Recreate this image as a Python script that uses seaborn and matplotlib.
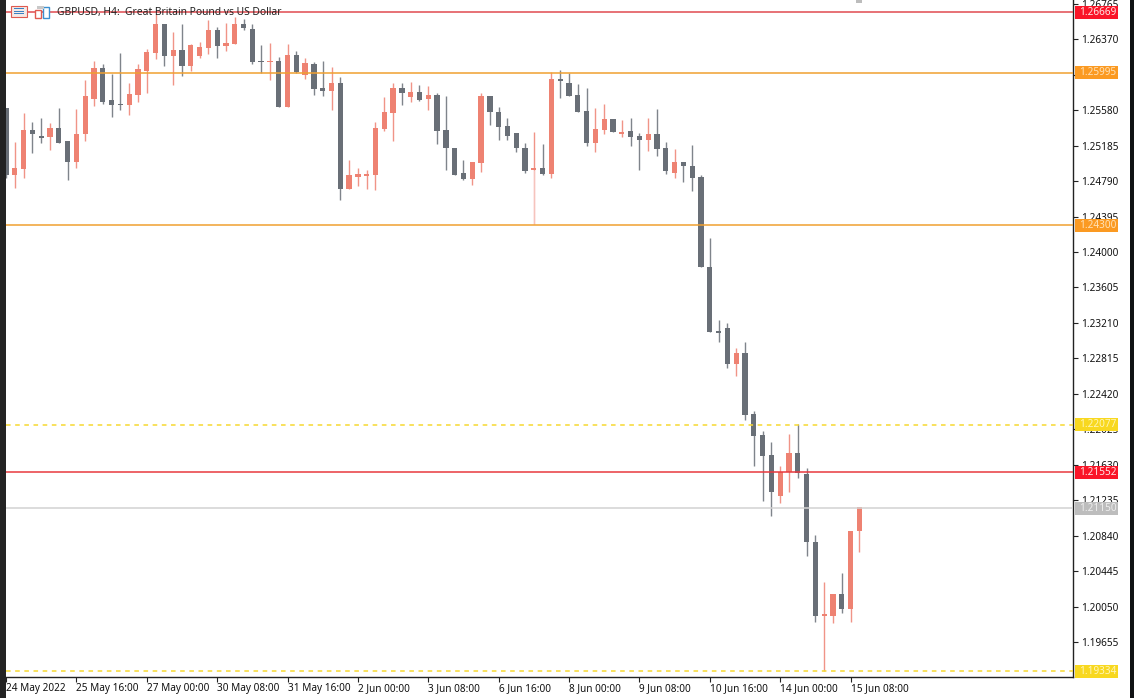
import numpy as np
import pandas as pd
import matplotlib
matplotlib.use("Agg")
import matplotlib.pyplot as plt
from matplotlib.patches import Rectangle
import seaborn as sns

opens = [1.25599,1.24853,1.24920,1.25357,1.25291,1.25276,1.25380,1.25235,1.25001,1.25309,1.25702,1.26051,1.25688,1.25651,1.25639,1.25747,
         1.26018,1.26218,1.26537,1.26177,1.26248,1.26070,1.26177,1.26274,1.26466,1.26292,1.26311,1.26541,1.26481,1.26129,1.26114,1.26129,
         1.25617,1.26196,1.25966,1.26092,1.25821,1.25788,1.25880,1.24698,1.24831,1.24850,1.24853,1.25365,1.25547,1.25821,1.25729,1.25784,
         1.25699,1.25751,1.25354,1.25161,1.24879,1.24809,1.24991,1.25736,1.25562,1.25406,1.25321,1.25161,1.24909,1.24939,1.24868,1.25929,
         1.25885,1.25747,1.25573,1.25209,1.25358,1.25480,1.25313,1.25343,1.25291,1.25247,1.25317,1.25161,1.24879,1.24998,1.24961,1.24831,
         1.23836,1.23118,1.23154,1.22754,1.22873,1.22197,1.21964,1.21741,1.21285,1.21555,1.21767,1.21527,1.20777,1.19953,1.19950,1.20191,
         1.20024,1.20896]
highs = [1.25599,1.25228,1.25550,1.25443,1.25487,1.25432,1.25599,1.25235,1.25587,1.25914,1.26129,1.26092,1.25981,1.26211,1.25884,1.26088,
         1.26259,1.26648,1.26537,1.26444,1.26537,1.26314,1.26340,1.26581,1.26507,1.26552,1.26619,1.26593,1.26537,1.26303,1.26322,1.26173,
         1.26314,1.26240,1.26162,1.26110,1.26125,1.26062,1.25951,1.25024,1.24931,1.24913,1.25451,1.25721,1.25877,1.25877,1.25896,1.25859,
         1.25847,1.25766,1.25736,1.25161,1.25024,1.25002,1.25773,1.25736,1.25610,1.25488,1.25321,1.25217,1.25339,1.25198,1.26003,1.26025,
         1.25988,1.25866,1.25829,1.25599,1.25643,1.25480,1.25469,1.25488,1.25321,1.25488,1.25588,1.25228,1.25146,1.25006,1.25191,1.24857,
         1.24159,1.23243,1.23207,1.22928,1.23002,1.22231,1.22012,1.21883,1.21619,1.21975,1.22086,1.21593,1.20851,1.20325,1.20191,1.20425,
         1.20899,1.21159]
lows = [1.24820,1.24708,1.24820,1.25098,1.25209,1.25135,1.25209,1.24801,1.24931,1.25235,1.25625,1.25647,1.25498,1.25580,1.25524,1.25673,
        1.25765,1.26144,1.26070,1.25858,1.25958,1.26010,1.26155,1.26199,1.26155,1.26240,1.26311,1.26470,1.26092,1.25988,1.25914,1.25613,
        1.25617,1.25988,1.25921,1.25751,1.25736,1.25580,1.24579,1.24698,1.24735,1.24698,1.24690,1.25347,1.25239,1.25636,1.25666,1.25684,
        1.25580,1.25198,1.24913,1.24853,1.24802,1.24746,1.24894,1.25410,1.25247,1.25247,1.25117,1.24876,1.24312,1.24861,1.24820,1.25710,
        1.25736,1.25558,1.25184,1.25117,1.25310,1.25332,1.25276,1.25180,1.24913,1.25124,1.25069,1.24868,1.24827,1.24783,1.24683,1.23830,
        1.23106,1.23002,1.22706,1.22620,1.22131,1.21619,1.21233,1.21062,1.21204,1.21333,1.21489,1.20621,1.19886,1.19341,1.19869,1.19987,
        1.19886,1.20665]
closes = [1.24857,1.24931,1.25357,1.25309,1.25272,1.25380,1.25217,1.25001,1.25317,1.25736,1.26051,1.25673,1.25636,1.25639,1.25758,1.26036,
          1.26222,1.26537,1.26181,1.26251,1.26070,1.26300,1.26285,1.26466,1.26292,1.26322,1.26541,1.26492,1.26114,1.26114,1.26129,1.25613,
          1.26196,1.25999,1.26099,1.25814,1.25788,1.25880,1.24697,1.24853,1.24865,1.24865,1.25380,1.25554,1.25821,1.25766,1.25784,1.25695,
          1.25747,1.25347,1.25154,1.24853,1.24809,1.25002,1.25736,1.25558,1.25395,1.25291,1.25154,1.24905,1.24939,1.24868,1.25929,1.25903,
          1.25736,1.25562,1.25209,1.25365,1.25477,1.25332,1.25339,1.25284,1.25247,1.25317,1.25150,1.24905,1.24998,1.24957,1.24820,1.23830,
          1.23106,1.23102,1.22754,1.22873,1.22190,1.21956,1.21733,1.21330,1.21555,1.21767,1.21538,1.20770,1.19950,1.19969,1.20191,1.20024,
          1.20899,1.21159]

price_ticks = [1.26765,1.26370,1.25975,1.25580,1.25185,1.24790,1.24395,1.24000,1.23605,1.23210,
               1.22815,1.22420,1.22025,1.21630,1.21235,1.20840,1.20445,1.20050,1.19655]
date_labels = ["24 May 2022","25 May 16:00","27 May 00:00","30 May 08:00","31 May 16:00","2 Jun 00:00","3 Jun 08:00",
               "6 Jun 16:00","8 Jun 00:00","9 Jun 08:00","10 Jun 16:00","14 Jun 00:00","15 Jun 08:00"]
level_prices = [1.26669,1.25995,1.24300,1.22077,1.21552,1.21150,1.19334]
level_colors = ["#e04a50","#f0a030","#f0a030","#f6d830","#e8393f","#d2d2d2","#f6d830"]
tag_colors = ["#fa1528","#fb9a22","#fb9a22","#f8d820","#fa1528","#bdbdbd","#f8d820"]
tag_text_colors = ["#ffe6e6","#ffe2b8","#ffe2b8","#fff6b8","#ffe6e6","#eeeeee","#fff6b8"]
level_styles = ["-","-","-","--","-","-","--"]
title = "GBPUSD, H4:  Great Britain Pound vs US Dollar"

UP = "#ee8272"
DOWN = "#696f77"
W, H = 1134, 698

sns.set_theme(style="white")
plt.rcParams["font.family"] = ["Noto Sans", "DejaVu Sans"]

fig = plt.figure(figsize=(W / 100, H / 100), dpi=100, facecolor="white")
ax = fig.add_axes([6 / W, 1 - 677 / H, (1073 - 6) / W, 677 / H])

df = pd.DataFrame({"open": opens, "high": highs, "low": lows, "close": closes})
df["idx"] = np.arange(len(df))
df["up"] = df["close"] >= df["open"]
df["bottom"] = df[["open", "close"]].min(axis=1)
df["height"] = (df["open"] - df["close"]).abs().clip(lower=0.00012)

for is_up, color in [(True, UP), (False, DOWN)]:
    sub = df[df["up"] == is_up]
    ax.vlines(sub["idx"], sub["low"], sub["high"], color=color, lw=1.0, alpha=0.85, zorder=2)
    sns.barplot(x=sub["idx"].to_numpy(), y=sub["height"].to_numpy(), bottom=sub["bottom"].to_numpy(),
                native_scale=True, color=color, saturation=1, width=0.6, linewidth=0, ax=ax, zorder=3,
                errorbar=None)

# the long lower wick of the 6 Jun candle is paler in the reference
ax.vlines(df["idx"][60], df["low"][60], df["bottom"][60], color="white", lw=1.0, alpha=0.45, zorder=2.5)

for p, c, ls in zip(level_prices, level_colors, level_styles):
    ax.axhline(p, color=c, lw=1.1, ls=ls, dashes=(3, 3) if ls == "--" else (None, None), zorder=4)

ax.set_xlim((6 - 5.7) / 8.8, (1073 - 5.7) / 8.8)
ax.set_ylim(1.26804 - 677 * 0.00011127, 1.26804)

ax.yaxis.tick_right()
ax.set_yticks(price_ticks)
ax.set_yticklabels([f"{v:.5f}" for v in price_ticks], fontsize=7.2, color="#111111")
ax.tick_params(axis="y", length=3.5, width=0.8, pad=2, color="#222222", right=True)
ax.set_xticks(np.arange(len(date_labels)) * 8)
ax.set_xticklabels(date_labels, fontsize=7.2, color="#111111", ha="left")
ax.tick_params(axis="x", length=3.5, width=0.8, pad=1, color="#222222", bottom=True)
ax.set_xlabel("")
ax.set_ylabel("")
for s in ["left", "top"]:
    ax.spines[s].set_visible(False)
for s in ["right", "bottom"]:
    ax.spines[s].set_visible(True)
    ax.spines[s].set_color("#222222")
    ax.spines[s].set_linewidth(1.0)

for p, c, tc in zip(level_prices, tag_colors, tag_text_colors):
    fig.patches.append(Rectangle((1075 / W, 1 - ((1.26804 - p) / 0.00011127 + 6.5) / H), 43 / W, 13 / H,
                                 transform=fig.transFigure, fc=c, ec="none", zorder=5))
    fig.text(1079 / W, 1 - ((1.26804 - p) / 0.00011127) / H, f"{p:.5f}", fontsize=7.2, color=tc,
             va="center", ha="left", zorder=6)

fig.text(57 / W, 1 - 12 / H, title, fontsize=7.4, color="#222222", va="center", ha="left", zorder=6)


def px_rect(x, y, w, h, **kw):
    fig.patches.append(Rectangle((x / W, 1 - (y + h) / H), w / W, h / H, transform=fig.transFigure, **kw))


px_rect(0, 0, 5.5, H, fc="#232323", ec="none", zorder=7)
px_rect(1130, 0, 4, H, fc="#101214", ec="none", zorder=7)
px_rect(11, 6, 16, 11, fc="#f4e9e6", ec="#e05a50", lw=0.8, zorder=6)
for yy in (8.5, 11, 13.5):
    px_rect(14, yy, 10, 0.9, fc="#3b82c4", ec="none", zorder=7)
px_rect(35, 10, 6, 8, fc="#ffffff", ec="#e05a50", lw=1.0, zorder=6)
px_rect(43, 7, 6, 11, fc="#ffffff", ec="#3b8fd0", lw=1.0, zorder=6)
px_rect(37, 6, 7, 3, fc="#c8c8c8", ec="none", zorder=6)
px_rect(856, 0, 6, 3, fc="#bcbcbc", ec="none", zorder=6)

fig.savefig("out.png", dpi=100, facecolor="white")
